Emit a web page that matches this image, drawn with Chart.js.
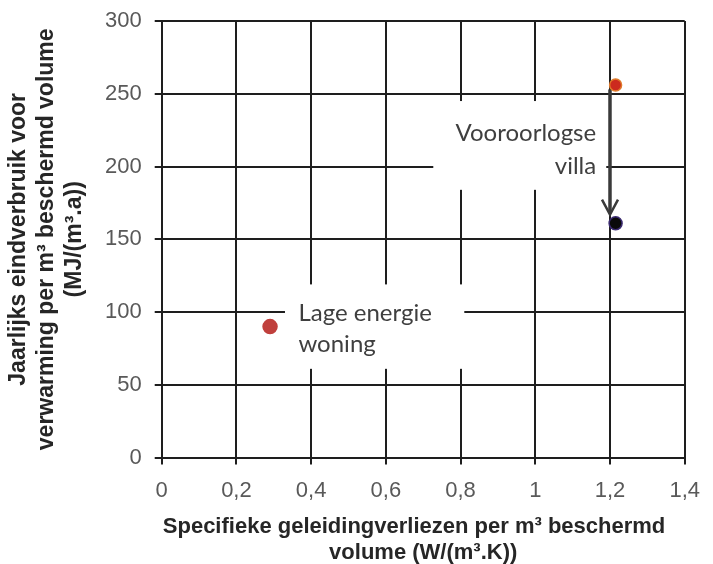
<!DOCTYPE html>
<html>
<head>
<meta charset="utf-8">
<script src="https://cdn.jsdelivr.net/npm/chart.js@4/dist/chart.umd.min.js"></script>
<style>
  html, body { margin: 0; padding: 0; background: #fff; overflow: hidden; }
  #wrap { width: 713px; height: 575px; position: relative; }
</style>
</head>
<body>
<div id="wrap"><canvas id="myChart"></canvas></div>
<script>
// data
const pointNames = ['Lage energie woning', 'Vooroorlogse villa (voor)', 'Vooroorlogse villa (na)'];
const xValues = [0.29, 1.215, 1.215];
const yValues = [90, 256, 161];
const pointColors = ['#c0403d', '#cc2a1e', '#0a0a0a'];
const pointBorders = ['#c0403d', '#e07a2a', '#3b2b70'];

const xTicks = [0, 0.2, 0.4, 0.6, 0.8, 1, 1.2, 1.4];
const yTicks = [0, 50, 100, 150, 200, 250, 300];

// arrow from villa before to after (data units)
const arrowFrom = [1.2, 253];
const arrowTo = [1.2, 167];

const lineColor = '#1e1e1e';
const tickColor = '#595959';
const titleColor = '#262626';

// text notes with white background boxes
const notes = [
    { lines: ['Lage energie', 'woning'], at: [0.366, 99.5], align: 'left', step: 31,
      box: [0.33, 0.81, 119, 61] },
    { lines: ['Vooroorlogse', 'villa'], at: [1.163, 223], align: 'right', step: 33,
      box: [0.727, 1.19, 245, 184] }
];

const notesPlugin = {
    id: 'notes',
    beforeDatasetsDraw(chart) {
        const ctx = chart.ctx;
        const x = chart.scales.x;
        const y = chart.scales.y;
        ctx.save();
        notes.forEach(n => {
            const x1 = x.getPixelForValue(n.box[0]);
            const x2 = x.getPixelForValue(n.box[1]);
            const y1 = y.getPixelForValue(n.box[2]);
            const y2 = y.getPixelForValue(n.box[3]);
            ctx.fillStyle = '#fff';
            ctx.fillRect(x1, y1, x2 - x1, y2 - y1);
            ctx.fillStyle = '#3f3f3f';
            ctx.font = '24px Lato';
            ctx.textAlign = n.align;
            ctx.textBaseline = 'middle';
            const tx = x.getPixelForValue(n.at[0]);
            const ty = y.getPixelForValue(n.at[1]);
            n.lines.forEach((t, i) => ctx.fillText(t, tx, ty + i * n.step));
        });

        // arrow
        const ax = x.getPixelForValue(arrowFrom[0]);
        const ay1 = y.getPixelForValue(arrowFrom[1]);
        const ay2 = y.getPixelForValue(arrowTo[1]);
        ctx.strokeStyle = '#3a3a3a';
        ctx.lineWidth = 3.5;
        ctx.beginPath();
        ctx.moveTo(ax, ay1);
        ctx.lineTo(ax, ay2 - 2);
        ctx.stroke();
        ctx.lineWidth = 2.5;
        ctx.beginPath();
        ctx.moveTo(ax - 8, ay2 - 15);
        ctx.lineTo(ax, ay2);
        ctx.lineTo(ax + 8, ay2 - 15);
        ctx.stroke();
        ctx.restore();
    }
};

const config = {
    type: 'scatter',
    data: {
        datasets: [{
            label: 'Verbruik',
            data: xValues.map((v, i) => ({ x: v, y: yValues[i] })),
            backgroundColor: pointColors,
            borderColor: pointBorders,
            borderWidth: 1.5,
            pointRadius: [7, 6, 6.5],
            pointHoverRadius: [7, 6, 6.5]
        }]
    },
    options: {
        responsive: true,
        maintainAspectRatio: false,
        animation: false,
        layout: { padding: { left: 0, right: 27, top: 6, bottom: 0 } },
        plugins: {
            legend: { display: false },
            tooltip: { enabled: false }
        },
        scales: {
            x: {
                type: 'linear',
                position: 'bottom',
                min: 0,
                max: 1.4,
                afterBuildTicks: axis => { axis.ticks = xTicks.map(v => ({ value: v })); },
                ticks: {
                    color: tickColor,
                    padding: 13,
                    font: { family: 'Liberation Sans', size: 22 },
                    callback: v => String(Math.round(v * 10) / 10).replace('.', ',')
                },
                grid: {
                    color: lineColor,
                    lineWidth: 2,
                    tickLength: 7
                },
                border: { color: lineColor, width: 2 },
                title: {
                    display: true,
                    text: ['Specifieke geleidingverliezen per m\u00b3 beschermd\u00a0\u00a0\u00a0', 'volume (W/(m\u00b3.K))'],
                    color: titleColor,
                    padding: { top: -3, bottom: 9 },
                    font: { family: 'Liberation Sans', size: 22, weight: 'bold', lineHeight: '26px' }
                }
            },
            y: {
                min: 0,
                max: 300,
                afterBuildTicks: axis => { axis.ticks = yTicks.map(v => ({ value: v })); },
                ticks: {
                    color: tickColor,
                    padding: 13,
                    font: { family: 'Liberation Sans', size: 22, lineHeight: '16px' }
                },
                grid: {
                    color: lineColor,
                    lineWidth: 2,
                    tickLength: 7
                },
                border: { color: lineColor, width: 2 },
                title: {
                    display: true,
                    text: ['Jaarlijks eindverbruik voor', 'verwarming per m\u00b3 beschermd volume', '(MJ/(m\u00b3.a))'],
                    color: titleColor,
                    padding: { top: 5, bottom: 3 },
                    font: { family: 'Liberation Sans', size: 23, weight: 'bold', lineHeight: '28px' }
                }
            }
        }
    },
    plugins: [notesPlugin]
};

const myChart = new Chart('myChart', config);
</script>
</body>
</html>
